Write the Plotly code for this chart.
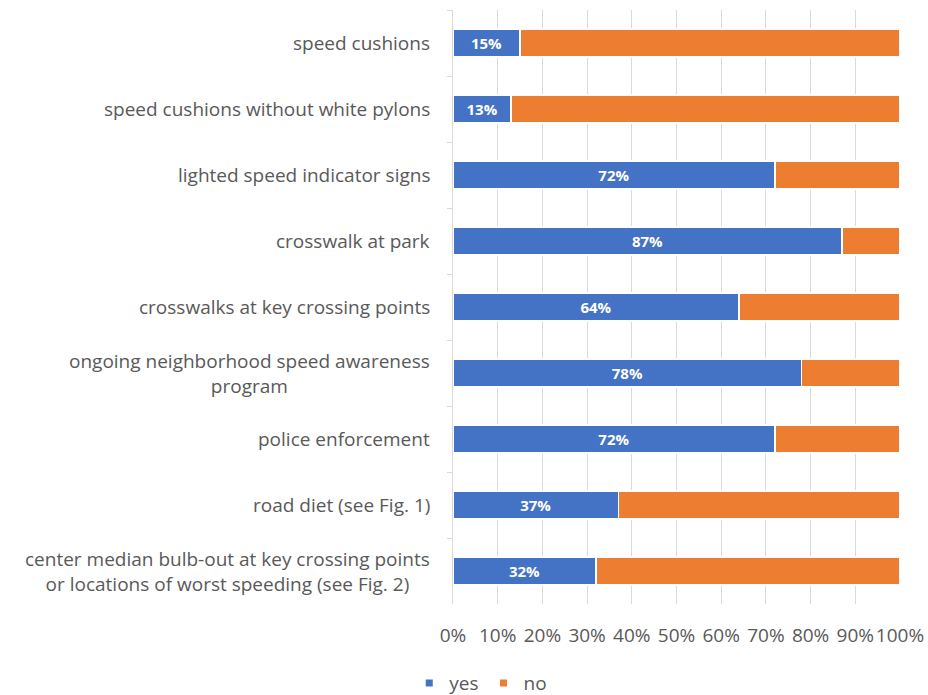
import plotly.graph_objects as go

categories = [
    "speed cushions",
    "speed cushions without white pylons",
    "lighted speed indicator signs",
    "crosswalk at park",
    "crosswalks at key crossing points",
    "ongoing neighborhood speed awareness<br>program",
    "police enforcement",
    "road diet (see Fig. 1)",
    "center median bulb-out at key crossing points<br>or locations of worst speeding (see Fig. 2)",
]
yes_pct = [15, 13, 72, 87, 64, 78, 72, 37, 32]
no_pct = [100 - v for v in yes_pct]
x_ticks = [0, 10, 20, 30, 40, 50, 60, 70, 80, 90, 100]
x_tick_labels = [f"{t}%" for t in x_ticks]

BLUE = "#4472C4"
ORANGE = "#ED7D31"
GRAY_TEXT = "#595959"
GRID = "#D9D9D9"
FONT = "Open Sans"

fig = go.Figure()
fig.add_trace(go.Bar(
    y=categories, x=yes_pct, name="yes", orientation="h",
    marker=dict(color=BLUE, line=dict(color="white", width=1.5)),
    texttemplate="<b>%{x}%</b>", textposition="inside", insidetextanchor="middle",
    textfont=dict(color="white", size=15, family=FONT),
    hoverinfo="skip", showlegend=False,
))
fig.add_trace(go.Bar(
    y=categories, x=no_pct, name="no", orientation="h",
    marker=dict(color=ORANGE, line=dict(color="white", width=1.5)),
    hoverinfo="skip", showlegend=False,
))

# small square legend keys
for name, col in (("yes", BLUE), ("no", ORANGE)):
    fig.add_trace(go.Scatter(
        x=[None], y=[None], mode="markers", name=name,
        marker=dict(symbol="square", size=7, color=col),
        showlegend=True, hoverinfo="skip",
    ))

# category labels as centred multi-line annotations
for c in categories:
    fig.add_annotation(
        x=0, y=c, xref="paper", yref="y", text=c, showarrow=False,
        xanchor="right", yanchor="middle", align="center", xshift=-21,
        font=dict(family=FONT, size=19, color=GRAY_TEXT),
    )

fig.update_layout(
    width=928, height=695,
    margin=dict(l=453, r=28, t=10, b=91, autoexpand=False),
    barmode="stack", bargap=0.58,
    plot_bgcolor="white", paper_bgcolor="white",
    font=dict(family=FONT, size=19, color=GRAY_TEXT),
    showlegend=True,
    legend=dict(
        orientation="h", xref="container", yref="container",
        x=0.441, y=0.017, xanchor="left", yanchor="middle",
        font=dict(family=FONT, size=19, color=GRAY_TEXT),
        itemwidth=30, traceorder="normal",
    ),
)
fig.update_xaxes(
    range=[0, 100], tickvals=x_ticks, ticktext=x_tick_labels,
    showgrid=True, gridcolor=GRID, gridwidth=1, zeroline=False,
    showline=False, ticks="", ticklabelstandoff=18, tickangle=0,
    automargin=False,
    tickfont=dict(family=FONT, size=19, color=GRAY_TEXT),
)
fig.update_yaxes(
    autorange="reversed", showticklabels=False,
    showline=True, linecolor=GRID, linewidth=1,
    ticks="outside", tickson="boundaries", ticklen=5, tickcolor=GRID,
    showgrid=False, automargin=False,
)

fig.write_html("out.html")
